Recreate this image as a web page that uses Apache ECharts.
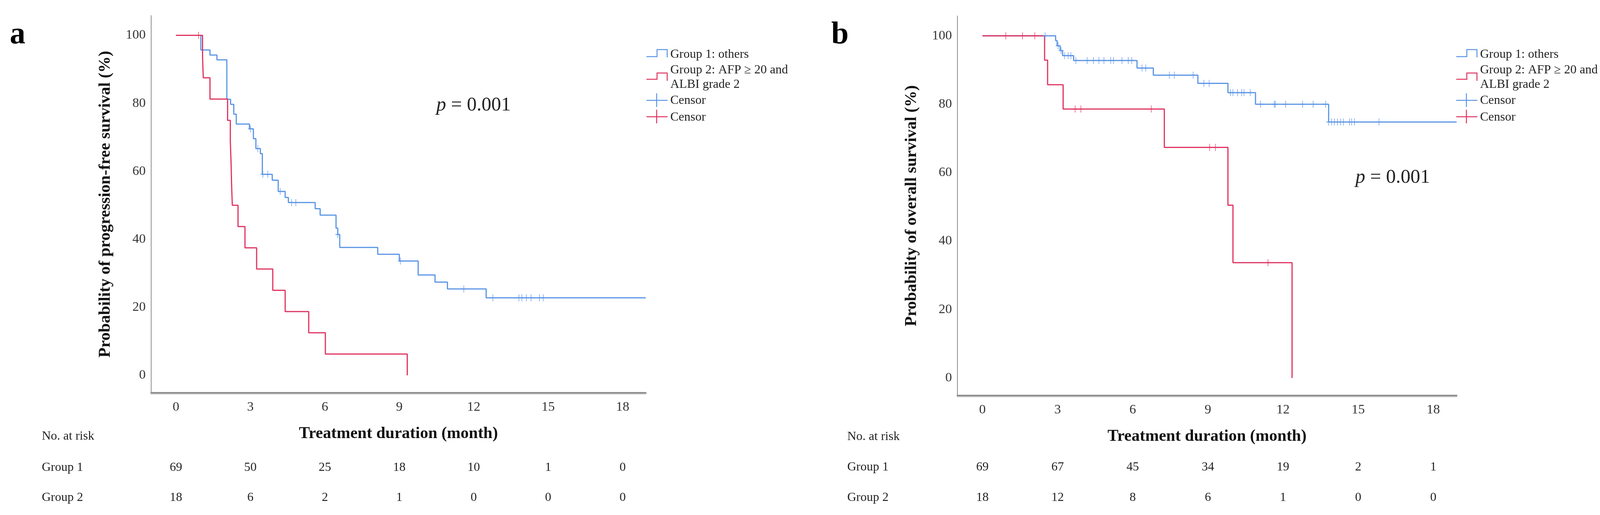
<!DOCTYPE html>
<html><head><meta charset="utf-8">
<script src="https://cdn.jsdelivr.net/npm/echarts@6/dist/echarts.min.js"></script>
<style>html,body{margin:0;padding:0;background:#fff}#c{width:4157px;height:1319px}</style>
</head><body><div id="c"></div>
<script>
// ---------- data ----------
const timeTicks = [0, 3, 6, 9, 12, 15, 18];
const survTicks = [0, 20, 40, 60, 80, 100];
const panelLetters = ['a', 'b'];
const yTitles = ['Probability of progression-free survival (%)', 'Probability of overall survival (%)'];
const xTitle = 'Treatment duration (month)';
const legendLines = ['Group 1: others', 'Group 2: AFP \u2265 20 and', 'ALBI grade 2', 'Censor', 'Censor'];
const riskHeader = 'No. at risk';
const riskRowLabels = ['Group 1', 'Group 2'];
const pText = '0.001';

// panel a: progression-free survival (time in months, survival %)
const pfsG1Steps = [[0,100],[1.0,95.7],[1.37,94.2],[1.65,92.8],[2.05,81.2],[2.2,79.7],[2.33,76.8],[2.43,73.9],[2.96,72.5],[3.12,69.6],[3.22,66.7],[3.4,65.2],[3.48,59.1],[3.88,57.4],[4.12,54.1],[4.4,52.3],[4.53,50.8],[5.61,49.0],[5.81,47.1],[6.45,43.3],[6.52,41.4],[6.6,37.6],[8.13,35.6],[9.0,33.6],[9.76,29.5],[10.44,27.4],[10.94,25.4],[12.5,22.8],[18.93,22.8]];
const pfsG1Censor = [[3.0,72.5],[3.3,66.7],[3.5,59.1],[3.7,59.1],[4.2,54.1],[4.66,50.8],[4.83,50.8],[6.52,41.4],[9.04,33.6],[11.6,25.4],[12.77,22.8],[13.82,22.8],[13.94,22.8],[14.12,22.8],[14.31,22.8],[14.65,22.8],[14.8,22.8]];
const pfsG2Steps = [[0,100],[1.07,93.75],[1.10,87.5],[1.37,81.25],[2.08,75],[2.19,68.75],[2.22,62.5],[2.24,56.25],[2.27,50],[2.5,43.75],[2.78,37.5],[3.25,31.25],[3.9,25],[4.4,18.75],[5.35,12.5],[6.02,6.25],[9.32,0]];
const pfsG2Censor = [[0.91,100]];
const pfsRiskG1 = [69, 50, 25, 18, 10, 1, 0];
const pfsRiskG2 = [18, 6, 2, 1, 0, 0, 0];

// panel b: overall survival
const osG1Steps = [[0,100],[2.92,98.6],[2.98,97.1],[3.1,95.7],[3.2,94.2],[3.64,92.8],[6.17,90.6],[6.82,88.5],[8.6,86.1],[9.8,83.4],[10.9,80.0],[13.82,74.8],[18.93,74.8]];
const osG1Censor = [[2.5,100],[3.02,97.1],[3.14,95.7],[3.28,94.2],[3.42,94.2],[3.53,94.2],[3.73,92.8],[4.18,92.8],[4.43,92.8],[4.65,92.8],[4.85,92.8],[5.12,92.8],[5.23,92.8],[5.57,92.8],[5.82,92.8],[5.96,92.8],[6.37,90.6],[6.52,90.6],[7.46,88.5],[7.66,88.5],[8.41,88.5],[8.84,86.1],[9.05,86.1],[9.9,83.4],[10.0,83.4],[10.18,83.4],[10.35,83.4],[10.44,83.4],[10.69,83.4],[11.1,80],[11.65,80],[11.69,80],[12.1,80],[12.78,80],[13.2,80],[13.7,80],[13.82,74.8],[13.94,74.8],[14.05,74.8],[14.17,74.8],[14.3,74.8],[14.41,74.8],[14.66,74.8],[14.74,74.8],[14.85,74.8],[15.83,74.8]];
const osG2Steps = [[0,100],[2.48,92.9],[2.6,85.7],[3.22,78.6],[7.26,67.4],[9.8,50.5],[10.0,33.7],[12.36,0]];
const osG2Censor = [[0.93,100],[1.6,100],[2.09,100],[3.7,78.6],[3.93,78.6],[6.74,78.6],[9.07,67.4],[9.3,67.4],[11.4,33.7]];
const osRiskG1 = [69, 67, 45, 34, 19, 2, 1];
const osRiskG2 = [18, 12, 8, 6, 1, 0, 0];

// ---------- styling ----------
const BLUE = '#5b95e6';
const RED = '#e0325f';
const SERIF = '"Liberation Serif", "Times New Roman", serif';
const TXT = '#222';
const PLUS = 'path://M5,0 L5,18 M0,9 L10,9';

const panels = [
  { grid: { left: 387, top: 40, width: 1266, height: 966 }, g1: pfsG1Steps, g1c: pfsG1Censor, g2: pfsG2Steps, g2c: pfsG2Censor, r1: pfsRiskG1, r2: pfsRiskG2,
    legendX: 1655, pX: 1117, pY: 270, letterX: 25, riskLabelX: 107, riskY: [1118, 1198, 1275] },
  { grid: { left: 2451, top: 41, width: 1278, height: 972 }, g1: osG1Steps, g1c: osG1Censor, g2: osG2Steps, g2c: osG2Censor, r1: osRiskG1, r2: osRiskG2,
    legendX: 3728, pX: 3470, pY: 455, letterX: 2128, riskLabelX: 2169, riskY: [1119, 1197, 1275] }
];

const chart = echarts.init(document.getElementById('c'), null, { renderer: 'canvas' });

const grids = [], xAxes = [], yAxes = [], series = [];
panels.forEach((p, i) => {
  grids.push(p.grid);
  xAxes.push({
    type: 'value', gridIndex: i, min: -1, max: 18.93,
    name: xTitle, nameLocation: 'middle', nameGap: 84,
    nameTextStyle: { fontFamily: SERIF, fontSize: 42, fontWeight: 'bold', color: '#111' },
    axisLine: { onZero: false, lineStyle: { color: '#8f8f8f', width: 4, shadowColor: 'rgba(0,0,0,0.25)', shadowBlur: 2, shadowOffsetY: 2 } },
    axisTick: { show: false }, splitLine: { show: false },
    axisLabel: { customValues: timeTicks, margin: 20, fontFamily: SERIF, fontSize: 34, color: '#333' }
  });
  yAxes.push({
    type: 'value', gridIndex: i, min: -5.15, max: 105.8,
    name: yTitles[i], nameLocation: 'middle', nameGap: 96, nameRotate: 90,
    nameTextStyle: { fontFamily: SERIF, fontSize: 42, fontWeight: 'bold', color: '#111' },
    axisLine: { onZero: false, lineStyle: { color: '#8f8f8f', width: 2 } },
    axisTick: { show: false }, splitLine: { show: false },
    axisLabel: { customValues: survTicks, margin: 14, fontFamily: SERIF, fontSize: 34, color: '#333' }
  });
  series.push(
    { name: 'Group 1', type: 'line', step: 'end', xAxisIndex: i, yAxisIndex: i, data: p.g1, showSymbol: false, lineStyle: { color: BLUE, width: 3 }, z: 2 },
    { name: 'Group 2', type: 'line', step: 'end', xAxisIndex: i, yAxisIndex: i, data: p.g2, showSymbol: false, lineStyle: { color: RED, width: 3 }, z: 3 },
    { name: 'Censor G1', type: 'scatter', xAxisIndex: i, yAxisIndex: i, data: p.g1c, symbol: PLUS, symbolSize: [12, 18], itemStyle: { color: 'none', borderColor: BLUE, borderWidth: 2 }, z: 4 },
    { name: 'Censor G2', type: 'scatter', xAxisIndex: i, yAxisIndex: i, data: p.g2c, symbol: PLUS, symbolSize: [12, 18], itemStyle: { color: 'none', borderColor: RED, borderWidth: 2 }, z: 5 }
  );
});

chart.setOption({
  backgroundColor: '#fff', animation: false,
  grid: grids, xAxis: xAxes, yAxis: yAxes, series: series
});

// ---------- annotations (legend, p value, risk table) ----------
const graphics = [];
const tStyle = (extra) => Object.assign({ fontFamily: SERIF, fill: TXT }, extra);
panels.forEach((p, i) => {
  const x0 = p.legendX;
  graphics.push({ type: 'text', x: p.letterX, y: 90, style: tStyle({ text: panelLetters[i], fontSize: 80, fontWeight: 'bold', fill: '#000', verticalAlign: 'middle' }) });
  graphics.push({ type: 'polyline', shape: { points: [[x0,145],[x0+27,145],[x0+27,127],[x0+53,127],[x0+53,147]] }, style: { stroke: BLUE, lineWidth: 2.5, fill: null } });
  graphics.push({ type: 'polyline', shape: { points: [[x0,203],[x0+27,203],[x0+27,187],[x0+53,187],[x0+53,207]] }, style: { stroke: RED, lineWidth: 2.5, fill: null } });
  graphics.push({ type: 'line', shape: { x1: x0, y1: 257, x2: x0+54, y2: 257 }, style: { stroke: BLUE, lineWidth: 2.5 } });
  graphics.push({ type: 'line', shape: { x1: x0+26, y1: 239, x2: x0+26, y2: 274 }, style: { stroke: BLUE, lineWidth: 2.5 } });
  graphics.push({ type: 'line', shape: { x1: x0, y1: 299, x2: x0+54, y2: 299 }, style: { stroke: RED, lineWidth: 2.5 } });
  graphics.push({ type: 'line', shape: { x1: x0+26, y1: 281, x2: x0+26, y2: 316 }, style: { stroke: RED, lineWidth: 2.5 } });
  const ly = [140, 180, 217, 258, 301];
  legendLines.forEach((t, k) => {
    graphics.push({ type: 'text', x: x0 + 61, y: ly[k], style: tStyle({ text: t, fontSize: 32, verticalAlign: 'middle' }) });
  });
  graphics.push({ type: 'text', x: p.pX, y: p.pY, style: tStyle({ text: '{i|p} = ' + pText, fontSize: 50, verticalAlign: 'middle', rich: { i: { fontFamily: SERIF, fontStyle: 'italic', fontSize: 50, fill: TXT } } }) });
  graphics.push({ type: 'text', x: p.riskLabelX, y: p.riskY[0], style: tStyle({ text: riskHeader, fontSize: 32, verticalAlign: 'middle' }) });
  [p.r1, p.r2].forEach((row, r) => {
    graphics.push({ type: 'text', x: p.riskLabelX, y: p.riskY[r + 1], style: tStyle({ text: riskRowLabels[r], fontSize: 32, verticalAlign: 'middle' }) });
    row.forEach((v, k) => {
      const px = chart.convertToPixel({ xAxisIndex: i }, timeTicks[k]);
      graphics.push({ type: 'text', x: px, y: p.riskY[r + 1], style: tStyle({ text: String(v), fontSize: 32, align: 'center', verticalAlign: 'middle' }) });
    });
  });
});
chart.setOption({ graphic: graphics });
</script>
</body></html>
